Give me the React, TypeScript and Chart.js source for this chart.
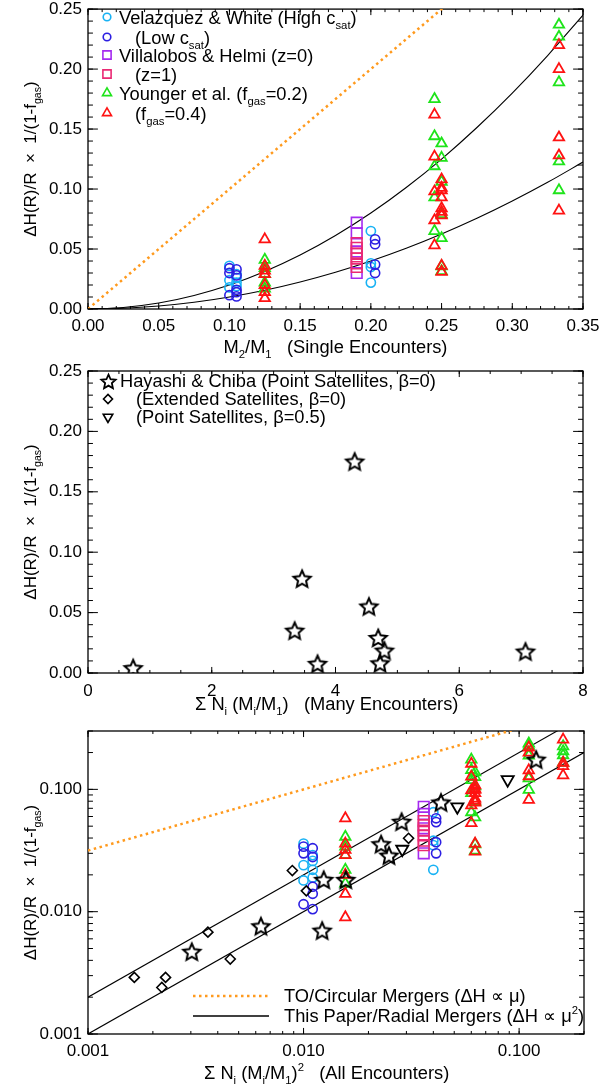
import React, { useEffect, useRef } from 'react';
import { Chart, registerables } from 'chart.js';

Chart.register(...registerables);

const FONT = '"Liberation Sans", Arial, Helvetica, sans-serif';
const FS = 17; // tick labels and y title
const LS = 18.3; // legend and x titles

// ===== Single encounters: mass ratio M2/M1 and ΔH(R)/R × 1/(1-fgas) =====
const vwHighRatio = [0.100, 0.100, 0.100, 0.105, 0.105, 0.105, 0.105, 0.200, 0.200, 0.200, 0.200];
const vwHighDH = [0.036, 0.024, 0.018, 0.029, 0.026, 0.022, 0.019, 0.065, 0.038, 0.035, 0.022];

const vwLowRatio = [0.100, 0.100, 0.100, 0.105, 0.105, 0.105, 0.105, 0.105, 0.203, 0.203, 0.203, 0.203];
const vwLowDH = [0.034, 0.030, 0.0115, 0.033, 0.028, 0.016, 0.014, 0.0105, 0.058, 0.054, 0.037, 0.030];

const vhZ0Ratio = [0.19, 0.19, 0.19, 0.19];
const vhZ0DH = [0.072, 0.063, 0.048, 0.030];
const vhZ1Ratio = [0.19, 0.19, 0.19, 0.19, 0.19, 0.19];
const vhZ1DH = [0.055, 0.051, 0.046, 0.042, 0.038, 0.035];

const yo02Ratio = [
  0.125, 0.125, 0.125, 0.125, 0.125,
  0.245, 0.245, 0.245, 0.245, 0.245,
  0.25, 0.25, 0.25, 0.25, 0.25, 0.25, 0.25,
  0.333, 0.333, 0.333, 0.333, 0.333,
  0.4, 0.4, 0.4, 0.4,
];
const yo02DH = [
  0.041, 0.034, 0.029, 0.022, 0.017,
  0.175, 0.144, 0.119, 0.093, 0.065,
  0.138, 0.126, 0.106, 0.079, 0.059, 0.0355, 0.0315,
  0.237, 0.227, 0.189, 0.123, 0.099,
  0.225, 0.205, 0.19, 0.165,
];
const yo04Ratio = [
  0.125, 0.125, 0.125, 0.125, 0.125, 0.125, 0.125,
  0.245, 0.245, 0.245, 0.245, 0.245,
  0.25, 0.25, 0.25, 0.25, 0.25, 0.25, 0.25, 0.25, 0.25,
  0.333, 0.333, 0.333, 0.333, 0.333,
  0.4, 0.4, 0.4, 0.4,
];
const yo04DH = [
  0.058, 0.036, 0.032, 0.029, 0.020, 0.014, 0.009,
  0.162, 0.127, 0.098, 0.074, 0.053,
  0.108, 0.101, 0.099, 0.093, 0.084, 0.081, 0.078, 0.036, 0.031,
  0.220, 0.200, 0.143, 0.128, 0.082,
  0.255, 0.165, 0.155, 0.13,
];

// ===== Hayashi & Chiba =====
const hcPointMany = [0.73, 3.34, 3.46, 3.71, 4.31, 4.54, 4.69, 4.79, 4.72, 7.07];
const hcPointManyDH = [0.004, 0.035, 0.078, 0.0076, 0.175, 0.055, 0.029, 0.0185, 0.008, 0.0177];
const hcPointAll = [0.00303, 0.00634, 0.0122, 0.0124, 0.0157, 0.0229, 0.0249, 0.0285, 0.0434, 0.120];
const hcPointAllDH = [0.0047, 0.0076, 0.0070, 0.0182, 0.0182, 0.0356, 0.0287, 0.0543, 0.078, 0.175];
const hcExtAll = [0.00164, 0.0022, 0.00229, 0.0036, 0.00457, 0.00887, 0.0103, 0.0307];
const hcExtAllDH = [0.0029, 0.0024, 0.0029, 0.0068, 0.0041, 0.0217, 0.0148, 0.0398];
const hcBetaAll = [0.0287, 0.0517, 0.0885];
const hcBetaAllDH = [0.0324, 0.072, 0.12];

// ===== Model curves =====
const curveRatio = [0, 0.025, 0.05, 0.075, 0.1, 0.125, 0.15, 0.175, 0.2, 0.225, 0.25, 0.275, 0.3, 0.325, 0.35];
const radialUpperDH = [0, 0.0013, 0.005, 0.0113, 0.02, 0.0313, 0.045, 0.0613, 0.08, 0.1013, 0.125, 0.1513, 0.18, 0.2113, 0.245];
const radialLowerDH = [0, 0.0006, 0.0025, 0.0056, 0.01, 0.0156, 0.0225, 0.0306, 0.04, 0.0506, 0.0625, 0.0756, 0.09, 0.1056, 0.1225];
const circRatio = [0, 0.3];
const circDH = [0, 0.3];
const allLineX = [0.001, 0.2];
const radialUpperAll = [0.002, 0.4];
const radialLowerAll = [0.001, 0.2];
const circAll = [0.0316, 0.447];

// ===== Tick labels =====
const p1XTicks = [0, 0.05, 0.1, 0.15, 0.2, 0.25, 0.3, 0.35];
const p1YTicks = [0, 0.05, 0.1, 0.15, 0.2, 0.25];
const p2XTicks = [0, 2, 4, 6, 8];
const p3Ticks = [0.001, 0.01, 0.1];

// ===== colours =====
const CYAN = '#18b2f4';
const BLUE = '#2c1ee2';
const PURPLE = '#a52af0';
const PINK = '#ea2a74';
const GREEN = '#1ee41a';
const RED = '#ff1212';
const ORANGE = '#ff9a1e';

type Seg = [string, number?];

const xy = (xs: number[], ys: number[]) => xs.map((x, i) => ({ x, y: ys[i] }));
const sq = (xs: number[], ys: number[]) => xs.map((x, i) => ({ x: x * x, y: ys[i] }));

function makeStar(R: number, lw: number): HTMLCanvasElement {
  const size = Math.ceil(2 * R + lw * 2 + 2);
  const c = document.createElement('canvas');
  c.width = size;
  c.height = size;
  const g = c.getContext('2d')!;
  const cx = size / 2;
  const cy = size / 2 + R * 0.08;
  g.beginPath();
  for (let i = 0; i < 10; i++) {
    const rr = i % 2 ? R * 0.47 : R;
    const a = -Math.PI / 2 + (i * Math.PI) / 5;
    const px = cx + rr * Math.cos(a);
    const py = cy + rr * Math.sin(a);
    if (i) g.lineTo(px, py);
    else g.moveTo(px, py);
  }
  g.closePath();
  g.lineWidth = lw;
  g.lineJoin = 'miter';
  g.strokeStyle = '#000';
  g.stroke();
  return c;
}

interface Marker { style: string; color: string; r: number; lw: number; rot?: number; img?: HTMLCanvasElement }
interface LegendRow {
  marker?: Marker;
  line?: { color: string; width: number; dash: number[]; x1: number; x2: number };
  mx: number;
  my: number;
  tx: number;
  ty: number;
  segs: Seg[];
}
interface IdlCfg {
  xMinor: number[];
  xMajor: number[];
  yMinor: number[];
  yMajor: number[];
  legend: LegendRow[];
  xTitle: { segs: Seg[]; x?: number; y: number };
  yTitle: { segs: Seg[]; x: number };
}

function richWidth(ctx: CanvasRenderingContext2D, segs: Seg[], size: number) {
  let w = 0;
  for (const [t, k] of segs) {
    ctx.font = `${k ? size * 0.62 : size}px ${FONT}`;
    w += ctx.measureText(t).width;
  }
  return w;
}

function drawRich(ctx: CanvasRenderingContext2D, segs: Seg[], x: number, y: number, size: number, align: 'left' | 'center') {
  const w = richWidth(ctx, segs, size);
  let cx = align === 'center' ? x - w / 2 : x;
  ctx.textAlign = 'left';
  ctx.textBaseline = 'alphabetic';
  for (const [t, k] of segs) {
    ctx.font = `${k ? size * 0.62 : size}px ${FONT}`;
    const dy = k === 1 ? size * 0.3 : k === 2 ? -size * 0.42 : 0;
    ctx.fillText(t, cx, y + dy);
    cx += ctx.measureText(t).width;
  }
}

function drawMarker(ctx: CanvasRenderingContext2D, m: Marker, x: number, y: number) {
  if (m.img) {
    ctx.drawImage(m.img, Math.round(x - m.img.width / 2), Math.round(y - m.img.height / 2));
    return;
  }
  ctx.save();
  ctx.strokeStyle = m.color;
  ctx.lineWidth = m.lw;
  ctx.beginPath();
  const r = m.r;
  if (m.style === 'circle') {
    ctx.arc(x, y, r, 0, Math.PI * 2);
  } else if (m.style === 'rect') {
    const s = r * Math.SQRT1_2;
    ctx.rect(x - s, y - s, 2 * s, 2 * s);
  } else if (m.style === 'triangle') {
    let a = ((m.rot || 0) * Math.PI) / 180;
    for (let i = 0; i < 3; i++) {
      const px = x + Math.sin(a) * r;
      const py = y - Math.cos(a) * r;
      if (i) ctx.lineTo(px, py);
      else ctx.moveTo(px, py);
      a += (2 * Math.PI) / 3;
    }
    ctx.closePath();
  } else if (m.style === 'rectRot') {
    ctx.moveTo(x - r, y);
    ctx.lineTo(x, y - r);
    ctx.lineTo(x + r, y);
    ctx.lineTo(x, y + r);
    ctx.closePath();
  }
  ctx.stroke();
  ctx.restore();
}

function linSteps(min: number, max: number, step: number) {
  const out: number[] = [];
  const n = Math.round((max - min) / step);
  for (let i = 0; i <= n; i++) out.push(min + i * step);
  return out;
}
function logMinor(min: number, max: number) {
  const out: number[] = [];
  for (let d = Math.floor(Math.log10(min)); d <= Math.ceil(Math.log10(max)); d++) {
    for (let k = 1; k <= 9; k++) {
      const v = k * Math.pow(10, d);
      if (v >= min * 0.9999 && v <= max * 1.0001) out.push(v);
    }
  }
  return out;
}

function makeIdlPlugin(cfg: IdlCfg) {
  return {
    id: 'idl',
    beforeDatasetsDraw(chart: any) {
      const { ctx, chartArea: a } = chart;
      const xs = chart.scales.x;
      const ys = chart.scales.y;
      const L = a.left, R = a.right, T = a.top, B = a.bottom;
      const h = B - T, w = R - L;
      const xMaj = 0.02 * h, yMaj = 0.02 * w;
      ctx.save();
      ctx.strokeStyle = '#000';
      ctx.lineWidth = 1;
      ctx.beginPath();
      const xt = (v: number, len: number) => {
        const p = xs.getPixelForValue(v);
        ctx.moveTo(p, B);
        ctx.lineTo(p, B - len);
        ctx.moveTo(p, T);
        ctx.lineTo(p, T + len);
      };
      const yt = (v: number, len: number) => {
        const p = ys.getPixelForValue(v);
        ctx.moveTo(L, p);
        ctx.lineTo(L + len, p);
        ctx.moveTo(R, p);
        ctx.lineTo(R - len, p);
      };
      cfg.xMinor.forEach((v) => xt(v, xMaj / 2));
      cfg.xMajor.forEach((v) => xt(v, xMaj));
      cfg.yMinor.forEach((v) => yt(v, yMaj / 2));
      cfg.yMajor.forEach((v) => yt(v, yMaj));
      ctx.stroke();
      ctx.lineWidth = 1.3;
      ctx.strokeRect(L, T, w, h);
      ctx.restore();
    },
    afterDraw(chart: any) {
      const { ctx, chartArea: a } = chart;
      ctx.save();
      ctx.fillStyle = '#000';
      for (const row of cfg.legend) {
        if (row.marker) drawMarker(ctx, row.marker, row.mx, row.my);
        if (row.line) {
          ctx.save();
          ctx.strokeStyle = row.line.color;
          ctx.lineWidth = row.line.width;
          ctx.setLineDash(row.line.dash);
          ctx.beginPath();
          ctx.moveTo(row.line.x1, row.my);
          ctx.lineTo(row.line.x2, row.my);
          ctx.stroke();
          ctx.restore();
        }
        ctx.fillStyle = '#000';
        drawRich(ctx, row.segs, row.tx, row.ty, LS, 'left');
      }
      const xt = cfg.xTitle;
      if (xt.x === undefined) drawRich(ctx, xt.segs, (a.left + a.right) / 2, xt.y, LS, 'center');
      else drawRich(ctx, xt.segs, xt.x, xt.y, LS, 'left');
      ctx.save();
      ctx.translate(cfg.yTitle.x, (a.top + a.bottom) / 2);
      ctx.rotate(-Math.PI / 2);
      drawRich(ctx, cfg.yTitle.segs, 0, 0, FS, 'center');
      ctx.restore();
      ctx.restore();
    },
  };
}

function axis(type: string, min: number, max: number, ticks: number[], decimals: number, pos: 'bottom' | 'left', fit: number, pad: number) {
  return {
    type,
    min,
    max,
    position: pos,
    afterBuildTicks: (s: any) => {
      s.ticks = ticks.map((v) => ({ value: v }));
    },
    afterFit: (s: any) => {
      if (pos === 'bottom') {
        s.height = fit;
        s.paddingLeft = 0;
        s.paddingRight = 0;
      } else {
        s.width = fit;
        s.paddingTop = 0;
        s.paddingBottom = 0;
      }
    },
    grid: { display: false, drawTicks: false, drawOnChartArea: false },
    border: { display: false },
    ticks: {
      autoSkip: false,
      maxRotation: 0,
      minRotation: 0,
      padding: pad,
      color: '#000',
      font: { family: FONT, size: FS },
      callback: (v: any) => Number(v).toFixed(decimals),
    },
  };
}

function pts(data: any[], style: any, color: string, r: number, lw: number, rot = 0) {
  return {
    type: 'scatter',
    data,
    showLine: false,
    pointStyle: style,
    pointRadius: r,
    pointHoverRadius: r,
    pointRotation: rot,
    borderColor: color,
    backgroundColor: 'rgba(0,0,0,0)',
    pointBorderColor: color,
    pointBackgroundColor: 'rgba(0,0,0,0)',
    pointBorderWidth: lw,
  };
}

function line(data: any[], color: string, width: number, dash: number[] = []) {
  return {
    type: 'scatter',
    data,
    showLine: true,
    borderColor: color,
    borderWidth: width,
    borderDash: dash,
    borderCapStyle: 'butt',
    pointRadius: 0,
    pointHoverRadius: 0,
    cubicInterpolationMode: 'monotone',
    fill: false,
  };
}

function baseOptions(top: number, right: number, xAxis: any, yAxis: any) {
  return {
    responsive: false,
    maintainAspectRatio: false,
    animation: false,
    devicePixelRatio: 1,
    events: [],
    layout: { padding: { top, right, left: 0, bottom: 0 } },
    plugins: { legend: { display: false }, tooltip: { enabled: false }, title: { display: false } },
    scales: { x: xAxis, y: yAxis },
  };
}

const yTitleSegs: Seg[] = [['ΔH(R)/R  ×  1/(1-f'], ['gas', 1], [')']];

function makePanel1(): any {
  const within = (d: { x: number; y: number }[]) => d.filter((p) => p.x <= 0.35);
  const pointSets = [
    pts(within(xy(vwHighRatio, vwHighDH)), 'circle', CYAN, 4.6, 1.6),
    pts(within(xy(vwLowRatio, vwLowDH)), 'circle', BLUE, 4.6, 1.6),
    pts(within(xy(vhZ0Ratio, vhZ0DH)), 'rect', PURPLE, 7.5, 1.6),
    pts(within(xy(vhZ1Ratio, vhZ1DH)), 'rect', PINK, 7.5, 1.6),
    pts(within(xy(yo02Ratio, yo02DH)), 'triangle', GREEN, 6, 1.8),
    pts(within(xy(yo04Ratio, yo04DH)), 'triangle', RED, 6, 1.8),
  ].reverse();
  const lines = [
    line(xy(curveRatio, radialUpperDH), '#000', 1.1),
    line(xy(curveRatio, radialLowerDH), '#000', 1.1),
    line(xy(circRatio, circDH), ORANGE, 2.5, [2.5, 3.5]),
  ];
  const legendY = [17, 37, 55, 74, 93, 113];
  const lm = (style: string, color: string, r: number) => ({ style, color, r, lw: 1.6 });
  const cfg: IdlCfg = {
    xMajor: p1XTicks,
    xMinor: linSteps(0, 0.35, 0.01),
    yMajor: p1YTicks,
    yMinor: linSteps(0, 0.25, 0.01),
    legend: [
      { marker: lm('circle', CYAN, 3.8), mx: 107, my: legendY[0], tx: 119, ty: legendY[0] + 6.5, segs: [['Velazquez & White (High c'], ['sat', 1], [')']] },
      { marker: lm('circle', BLUE, 3.8), mx: 107, my: legendY[1], tx: 135, ty: legendY[1] + 6.5, segs: [['(Low c'], ['sat', 1], [')']] },
      { marker: lm('rect', PURPLE, 5.8), mx: 107, my: legendY[2], tx: 119, ty: legendY[2] + 6.5, segs: [['Villalobos & Helmi (z=0)']] },
      { marker: lm('rect', PINK, 5.8), mx: 107, my: legendY[3], tx: 135, ty: legendY[3] + 6.5, segs: [['(z=1)']] },
      { marker: lm('triangle', GREEN, 5.2), mx: 107, my: legendY[4], tx: 119, ty: legendY[4] + 6.5, segs: [['Younger et al. (f'], ['gas', 1], ['=0.2)']] },
      { marker: lm('triangle', RED, 5.2), mx: 107, my: legendY[5], tx: 135, ty: legendY[5] + 6.5, segs: [['(f'], ['gas', 1], ['=0.4)']] },
    ],
    xTitle: { segs: [['M'], ['2', 1], ['/M'], ['1', 1], ['   (Single Encounters)']], y: 353 },
    yTitle: { segs: yTitleSegs, x: 36 },
  };
  return {
    type: 'scatter',
    data: { datasets: [...pointSets, ...lines] },
    options: baseOptions(
      3,
      20,
      axis('linear', 0, 0.35, p1XTicks, 2, 'bottom', 51, 7),
      axis('linear', 0, 0.25, p1YTicks, 2, 'left', 88, 6),
    ),
    plugins: [makeIdlPlugin(cfg)],
  };
}

function makePanel2(): any {
  const star = makeStar(9, 2);
  const legStar = makeStar(7.5, 1.8);
  const cfg: IdlCfg = {
    xMajor: p2XTicks,
    xMinor: linSteps(0, 8, 0.5),
    yMajor: p1YTicks,
    yMinor: linSteps(0, 0.25, 0.01),
    legend: [
      { marker: { style: 'star', color: '#000', r: 7, lw: 2, img: legStar }, mx: 108, my: 21, tx: 120, ty: 27, segs: [['Hayashi & Chiba (Point Satellites, β=0)']] },
      { marker: { style: 'rectRot', color: '#000', r: 4.5, lw: 1.6 }, mx: 108, my: 39, tx: 136, ty: 45, segs: [['(Extended Satellites, β=0)']] },
      { marker: { style: 'triangle', color: '#000', r: 5.5, lw: 1.6, rot: 180 }, mx: 108, my: 57, tx: 136, ty: 63, segs: [['(Point Satellites, β=0.5)']] },
    ],
    xTitle: { segs: [['Σ N'], ['i', 1], [' (M'], ['i', 1], ['/M'], ['1', 1], [')   (Many Encounters)']], x: 195, y: 350 },
    yTitle: { segs: yTitleSegs, x: 36 },
  };
  return {
    type: 'scatter',
    data: { datasets: [pts(xy(hcPointMany, hcPointManyDH), star, '#000', 9, 2)] },
    options: baseOptions(
      6,
      20,
      axis('linear', 0, 8, p2XTicks, 0, 'bottom', 47, 8),
      axis('linear', 0, 0.25, p1YTicks, 2, 'left', 88, 6),
    ),
    plugins: [makeIdlPlugin(cfg)],
  };
}

function makePanel3(): any {
  const star = makeStar(9, 2);
  const pointSets = [
    pts(sq(vwHighRatio, vwHighDH), 'circle', CYAN, 4.6, 1.6),
    pts(sq(vwLowRatio, vwLowDH), 'circle', BLUE, 4.6, 1.6),
    pts(sq(vhZ0Ratio, vhZ0DH), 'rect', PURPLE, 7.5, 1.6),
    pts(sq(vhZ1Ratio, vhZ1DH), 'rect', PINK, 7.5, 1.6),
    pts(sq(yo02Ratio, yo02DH), 'triangle', GREEN, 6, 1.8),
    pts(sq(yo04Ratio, yo04DH), 'triangle', RED, 6, 1.8),
    pts(xy(hcPointAll, hcPointAllDH), star, '#000', 9, 2),
    pts(xy(hcExtAll, hcExtAllDH), 'rectRot', '#000', 5, 1.6),
    pts(xy(hcBetaAll, hcBetaAllDH), 'triangle', '#000', 7, 1.8, 180),
  ].reverse();
  const lines = [
    line(xy(allLineX, radialUpperAll), '#000', 1.1),
    line(xy(allLineX, radialLowerAll), '#000', 1.1),
    line(xy(allLineX, circAll), ORANGE, 2.5, [2.5, 3.5]),
  ];
  const cfg: IdlCfg = {
    xMajor: p3Ticks,
    xMinor: logMinor(0.001, 0.2),
    yMajor: p3Ticks,
    yMinor: logMinor(0.001, 0.3),
    legend: [
      { line: { color: ORANGE, width: 2.5, dash: [2.5, 3.5], x1: 193, x2: 269 }, mx: 0, my: 276, tx: 284, ty: 282, segs: [['TO/Circular Mergers (ΔH ∝ μ)']] },
      { line: { color: '#000', width: 1.3, dash: [], x1: 193, x2: 269 }, mx: 0, my: 296, tx: 284, ty: 302, segs: [['This Paper/Radial Mergers (ΔH ∝ μ'], ['2', 2], [')']] },
    ],
    xTitle: { segs: [['Σ N'], ['i', 1], [' (M'], ['i', 1], ['/M'], ['1', 1], [')'], ['2', 2], ['   (All Encounters)']], x: 204, y: 359 },
    yTitle: { segs: yTitleSegs, x: 36 },
  };
  return {
    type: 'scatter',
    data: { datasets: [...pointSets, ...lines] },
    options: baseOptions(
      9,
      19,
      axis('logarithmic', 0.001, 0.2, p3Ticks, 3, 'bottom', 51, 7),
      axis('logarithmic', 0.001, 0.3, p3Ticks, 3, 'left', 88, 6),
    ),
    plugins: [makeIdlPlugin(cfg)],
  };
}

function PanelCanvas({ top, height, make }: { top: number; height: number; make: () => any }) {
  const ref = useRef<HTMLCanvasElement | null>(null);
  useEffect(() => {
    if (!ref.current) return;
    const chart = new Chart(ref.current, make());
    return () => chart.destroy();
  }, [make]);
  return (
    <canvas
      ref={ref}
      width={603}
      height={height}
      style={{ position: 'absolute', left: 0, top, width: 603, height, display: 'block' }}
    />
  );
}

export default function App() {
  return (
    <div style={{ position: 'absolute', left: 0, top: 0, width: 603, height: 1085, background: '#fff', overflow: 'hidden' }}>
      <PanelCanvas top={0} height={360} make={makePanel1} />
      <PanelCanvas top={360} height={360} make={makePanel2} />
      <PanelCanvas top={720} height={365} make={makePanel3} />
    </div>
  );
}
